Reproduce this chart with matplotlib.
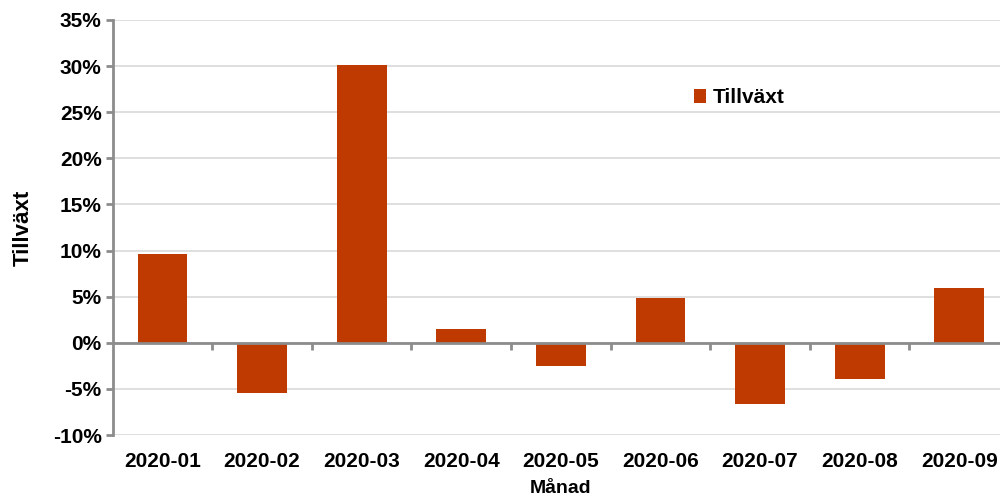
import matplotlib
matplotlib.use("Agg")
import matplotlib.pyplot as plt
import numpy as np
from matplotlib.ticker import FuncFormatter, MultipleLocator

months = ["2020-01", "2020-02", "2020-03", "2020-04", "2020-05",
          "2020-06", "2020-07", "2020-08", "2020-09"]
growth = [9.6, -5.4, 30.1, 1.5, -2.5, 4.9, -6.6, -3.9, 5.9]
series_name = "Tillväxt"
x_title = "Månad"
y_title = "Tillväxt"

bar_color = "#BE3A00"
axis_color = "#8C8C8C"
grid_color = "#D9D9D9"

plt.rcParams["font.family"] = ["Liberation Sans", "DejaVu Sans"]
plt.rcParams["font.weight"] = "bold"

fig = plt.figure(figsize=(10, 4.98), dpi=100)
ax = fig.add_axes([0.1127, 0.1265, 0.8963, 0.8335])

x = np.arange(len(months))
ax.bar(x, growth, width=0.5, color=bar_color, label=series_name, zorder=3)

ax.set_xlim(-0.5, len(months) - 0.5)
ax.set_ylim(-10, 35)
ax.yaxis.set_major_locator(MultipleLocator(5))
ax.yaxis.set_major_formatter(FuncFormatter(lambda v, p: f"{v:.0f}%"))
ax.grid(axis="y", color=grid_color, linewidth=1.2, zorder=0)

for side in ["top", "right", "bottom"]:
    ax.spines[side].set_visible(False)
ax.spines["left"].set_color(axis_color)
ax.spines["left"].set_linewidth(2)
ax.spines["left"].set_zorder(4)

# zero line with category separator ticks
ax.axhline(0, color=axis_color, linewidth=2, zorder=4)
bounds = x[:-1] + 0.5
ax.vlines(bounds, -0.75, 0, color=axis_color, linewidth=2, zorder=4)

ax.set_xticks(x)
ax.set_xticklabels(months)
ax.tick_params(axis="x", length=0, pad=12, labelsize=15)
ax.tick_params(axis="y", length=5, width=2, color=axis_color, labelsize=15, pad=3)
for lbl in ax.get_xticklabels() + ax.get_yticklabels():
    lbl.set_fontweight("bold")

ax.set_xlabel(x_title, fontsize=14, fontweight="bold", labelpad=7)
ax.set_ylabel(y_title, fontsize=16, fontweight="bold", labelpad=14)

leg = ax.legend(loc="center left", bbox_to_anchor=(0.648, 0.812), frameon=False,
                fontsize=15, handlelength=0.6, handleheight=0.6, handletextpad=0.3,
                borderaxespad=0, borderpad=0)
for t in leg.get_texts():
    t.set_fontweight("bold")

fig.savefig("out.png", dpi=100)
